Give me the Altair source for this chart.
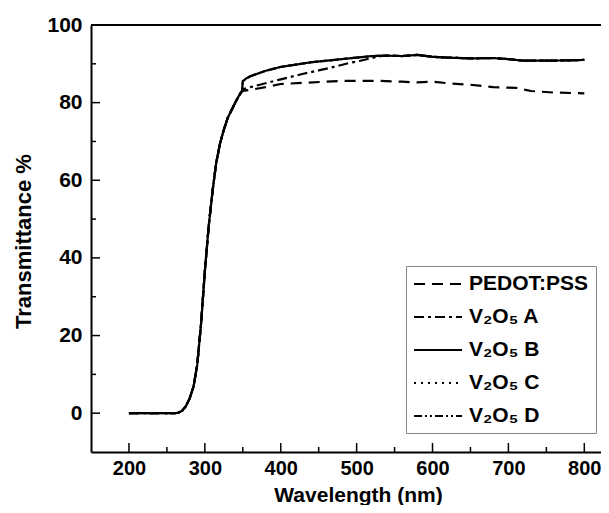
import altair as alt
import pandas as pd

# ---- data ----
series_names = ["PEDOT:PSS", "V₂O₅ A", "V₂O₅ B", "V₂O₅ C", "V₂O₅ D"]

rise_wl = [200, 210, 220, 230, 240, 250, 260, 265, 270, 275, 280, 285, 290, 295,
           300, 305, 310, 315, 320, 325, 330, 335, 340, 345, 349]
rise_t = [0, 0, 0, 0, 0, 0, 0, 0.1, 0.6, 1.8, 3.8, 6.8, 12.5, 23,
          36.5, 48, 57, 64.5, 69.5, 73, 76, 78, 80, 81.8, 83]

pedot_wl = [350, 360, 380, 400, 430, 480, 530, 560, 580, 600, 620, 650, 680, 710, 730, 760, 800]
pedot_t = [83.0, 83.3, 84.0, 84.8, 85.1, 85.6, 85.6, 85.4, 85.2, 85.4, 85.0, 84.6, 84.0, 83.8, 83.0, 82.6, 82.4]

a_wl = [350, 360, 380, 400, 427, 450, 470, 490, 505, 520, 535, 560, 580, 600, 620, 650, 680, 700, 720, 750, 780, 800]
a_t = [83.4, 84.0, 85.0, 86.0, 87.3, 88.3, 89.2, 90.2, 90.8, 91.5, 92.1, 92.0, 92.3, 91.8, 91.6, 91.4, 91.5, 91.2, 90.8, 90.8, 90.9, 91.0]

b_wl = [350, 355, 360, 370, 380, 390, 400, 420, 440, 460, 480, 500, 520, 540, 560, 580, 600, 620, 650, 680, 700, 720, 750, 780, 800]
b_t = [85.5, 86.3, 86.8, 87.5, 88.2, 88.7, 89.2, 89.8, 90.4, 90.8, 91.2, 91.6, 92.0, 92.1, 92.0, 92.3, 91.8, 91.6, 91.4, 91.5, 91.2, 90.8, 90.8, 90.9, 91.0]

c_wl, c_t = b_wl, b_t   # hidden under V2O5 B
d_wl, d_t = b_wl, b_t   # hidden under V2O5 B

x_major = [200, 300, 400, 500, 600, 700, 800]
x_minor = [250, 350, 450, 550, 650, 750]
y_major = [0, 20, 40, 60, 80, 100]
y_minor = [10, 30, 50, 70, 90]

rows = []
for name, wl, t in [(series_names[0], pedot_wl, pedot_t), (series_names[1], a_wl, a_t),
                    (series_names[2], b_wl, b_t), (series_names[3], c_wl, c_t),
                    (series_names[4], d_wl, d_t)]:
    for w, v in zip(rise_wl + wl, rise_t + t):
        rows.append({"series": name, "wl": w, "T": v})
df = pd.DataFrame(rows)

W, H = 510, 427
FONT = "Liberation Sans"

xscale = alt.Scale(domain=[150, 822], nice=False, zero=False)
yscale = alt.Scale(domain=[-10, 100], nice=False, zero=False)

lines = alt.Chart(df).mark_line(strokeWidth=2.2, color="black").encode(
    x=alt.X("wl:Q", scale=xscale,
            axis=alt.Axis(title="Wavelength (nm)", values=x_major, ticks=False, grid=False,
                          labelPadding=6, labelFontSize=20, titleFontSize=21,
                          titleX=267, titleY=53, titleBaseline="bottom", titleAnchor=None)),
    y=alt.Y("T:Q", scale=yscale,
            axis=alt.Axis(title="Transmittance %", values=y_major, ticks=False, grid=False,
                          labelPadding=9, titleX=-68, titleY=216, titleBaseline="middle",
                          titleAngle=-90, titleAlign="center")),
    detail="series:N",
    strokeDash=alt.StrokeDash(
        "series:N",
        scale=alt.Scale(domain=series_names,
                        range=[[11, 7], [10, 4, 3, 4], [1, 0], [2, 5], [8, 3, 2, 3, 2, 3]]),
        sort=series_names,
        legend=alt.Legend(orient="none", legendX=315, legendY=241, title=None,
                          symbolType="M-1,0L3.8,0", symbolSize=400, symbolStrokeWidth=2,
                          symbolStrokeColor="black", labelFontSize=21, labelFont=FONT,
                          labelFontWeight="bold", labelColor="black", strokeColor="#888",
                          padding=7, rowPadding=12, labelOffset=34, fillColor="white",
                          labelLimit=300)),
)

xmaj = alt.Chart(pd.DataFrame({"v": x_major})).mark_rule(color="black", strokeWidth=1.5).encode(
    x=alt.X("v:Q", scale=xscale), y=alt.value(H), y2=alt.value(H - 9))
xmin = alt.Chart(pd.DataFrame({"v": x_minor})).mark_rule(color="black", strokeWidth=1.5).encode(
    x=alt.X("v:Q", scale=xscale), y=alt.value(H), y2=alt.value(H - 5))
ymaj = alt.Chart(pd.DataFrame({"v": y_major})).mark_rule(color="black", strokeWidth=1.5).encode(
    y=alt.Y("v:Q", scale=yscale), x=alt.value(0), x2=alt.value(9))
ymin = alt.Chart(pd.DataFrame({"v": y_minor})).mark_rule(color="black", strokeWidth=1.5).encode(
    y=alt.Y("v:Q", scale=yscale), x=alt.value(0), x2=alt.value(5))
top = alt.Chart(pd.DataFrame({"v": [0]})).mark_rule(color="black", strokeWidth=2).encode(
    x=alt.value(0), x2=alt.value(W), y=alt.value(0))

chart = alt.layer(lines, xmaj, xmin, ymaj, ymin, top).properties(
    width=W, height=H,
    autosize=alt.AutoSizeParams(type="none"),
    padding={"left": 83, "top": 17, "right": 0, "bottom": 53},
).configure_view(stroke=None).configure_axis(
    domainColor="black", domainWidth=2, labelFont=FONT, labelFontSize=21,
    labelFontWeight="bold", labelColor="black", titleFont=FONT, titleFontSize=22,
    titleFontWeight="bold", titleColor="black",
)

chart.save("out.html", embed_options={"renderer": "svg", "actions": False})
